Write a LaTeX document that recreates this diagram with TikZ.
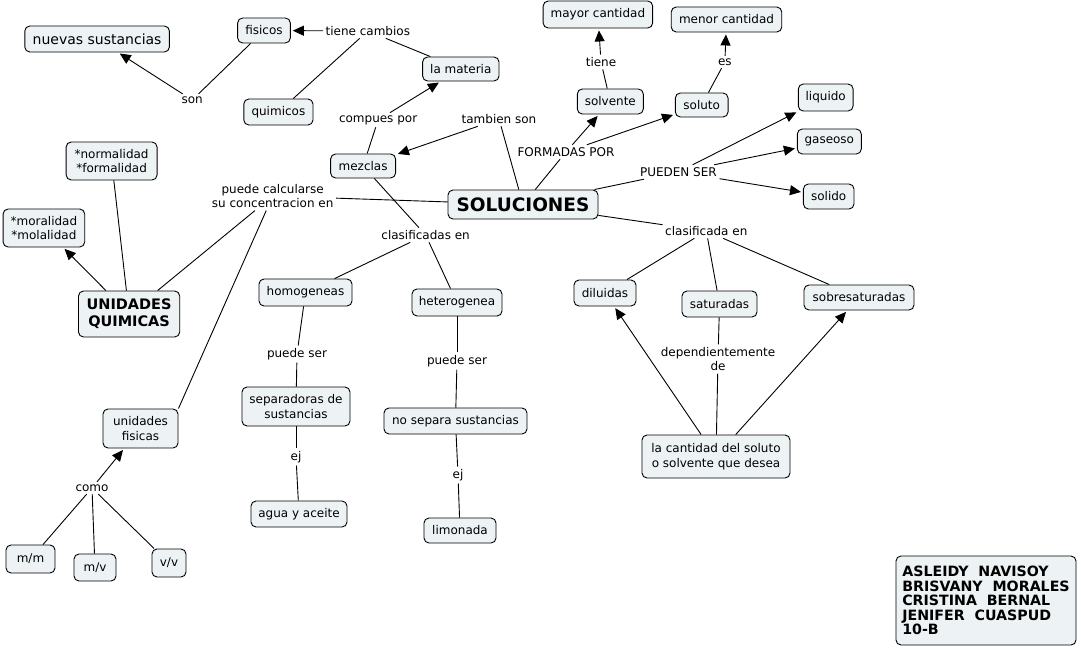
\documentclass[tikz,border=0pt]{standalone}
\usepackage{fontspec}
\setmainfont{DejaVu Sans}
\usetikzlibrary{arrows.meta}
\definecolor{cfill}{RGB}{237,243,245}
\newcommand{\nf}{\fontsize{12}{14.5}\selectfont}
\begin{document}
\begin{tikzpicture}[x=1pt,y=-1pt,
 concept/.style={draw=black, fill=cfill, rounded corners=5pt, line width=0.9pt, inner sep=2pt, align=center, font=\nf},
 lbl/.style={inner sep=2.5pt, align=center, font=\nf},
 conn/.style={line width=0.9pt},
 arr/.style={line width=0.9pt, -{Triangle[length=11pt,width=10pt]}, shorten >=2pt},
 sz/.style 2 args={minimum width=#1pt, minimum height=#2pt}
]
\useasboundingbox (0,0) rectangle (1081,653);

\node[concept, sz={144.6}{26}, font=\fontsize{14}{16}\selectfont] (nuevas) at (97.1,39) {nuevas sustancias};
\node[concept, sz={52.7}{25}] (fisicos) at (264,30.5) {fisicos};
\node[lbl] (tiene) at (367.8,31) {tiene cambios};
\node[concept, sz={69.2}{26}] (quimicos) at (278.4,112) {quimicos};
\node[lbl] (son) at (192.2,100) {son};
\node[concept, sz={76.4}{24}] (materia) at (460.8,69) {la materia};
\node[lbl] (compues) at (378.1,120) {compues por};
\node[lbl] (tambien) at (499,119) {tambien son};
\node[concept, sz={65}{24}] (mezclas) at (363.1,166) {mezclas};
\node[concept, sz={150}{29}, font=\fontsize{18.5}{21}\selectfont\bfseries] (sol) at (523,204.5) {SOLUCIONES};
\node[lbl] (formadas) at (566,152) {FORMADAS POR};
\node[concept, sz={109.5}{27}] (mayor) at (597.9,14.5) {mayor cantidad};
\node[lbl] (tiene2) at (601,62) {tiene};
\node[concept, sz={66}{25}] (solvente) at (610.3,101.5) {solvente};
\node[concept, sz={110.5}{25}] (menor) at (726.5,19.5) {menor cantidad};
\node[lbl] (es) at (724.9,62) {es};
\node[concept, sz={52.7}{24}] (soluto) at (701.7,105) {soluto};
\node[concept, sz={54.8}{27}] (liquido) at (825.7,97.5) {liquido};
\node[concept, sz={64}{25}] (gaseoso) at (829.3,141.5) {gaseoso};
\node[concept, sz={50.6}{25}] (solido) at (828.7,196.5) {solido};
\node[lbl] (pueden) at (678.4,172) {PUEDEN SER};
\node[lbl] (clasa) at (706.3,231) {clasificada en};
\node[concept, sz={62}{26}] (diluidas) at (605,293) {diluidas};
\node[concept, sz={75}{26}] (saturadas) at (719.5,304) {saturadas};
\node[concept, sz={110}{25}] (sobre) at (859,297.5) {sobresaturadas};
\node[lbl] (depend) at (718,359) {dependientemente\\de};
\node[concept, sz={148}{43}] (cantidad) at (716,456.5) {la cantidad del soluto\\o solvente que desea};
\node[lbl] (clasb) at (425.6,235) {clasificadas en};
\node[concept, sz={93}{27}] (homo) at (305.5,292.5) {homogeneas};
\node[concept, sz={90}{27}] (hetero) at (457,302.5) {heterogenea};
\node[lbl] (pserA) at (297,354) {puede ser};
\node[concept, sz={108}{39}] (separa) at (296,406.5) {separadoras de\\sustancias};
\node[lbl] (ejA) at (296,457) {ej};
\node[concept, sz={96}{26}] (agua) at (299,514) {agua y aceite};
\node[lbl] (pserB) at (457,361) {puede ser};
\node[concept, sz={143}{26}] (nosepara) at (455.5,421) {no separa sustancias};
\node[lbl] (ejB) at (458,475) {ej};
\node[concept, sz={72}{25}] (limonada) at (460,530.5) {limonada};
\node[lbl] (calc) at (272.7,196) {puede calcularse\\su concentracion en};
\node[concept, sz={90.9}{38}] (normal) at (111.6,161) {*normalidad\\*formalidad};
\node[concept, sz={81.6}{38}] (moral) at (43.9,228) {*moralidad\\*molalidad};
\node[concept, sz={101.2}{46}, font=\fontsize{14.5}{17}\selectfont\bfseries] (uq) at (129.1,314) {UNIDADES\\QUIMICAS};
\node[concept, sz={75}{39}] (uf) at (140.5,428.5) {unidades\\fisicas};
\node[lbl] (como) at (92,488) {como};
\node[concept, sz={49}{28}] (mm) at (30.5,559) {m/m};
\node[concept, sz={42}{27}] (mv) at (95,567.5) {m/v};
\node[concept, sz={34}{28}] (vv) at (169,563) {v/v};
\node[concept, sz={180}{89}, align=left, font=\fontsize{14.2}{14.6}\selectfont\bfseries] (autores) at (986,600.5)
 {ASLEIDY\ \ NAVISOY\\BRISVANY\ \ MORALES\\CRISTINA\ \ BERNAL\\JENIFER\ \ CUASPUD\\10-B};

% connectors
\draw[arr] (tiene) -- (fisicos);
\draw[conn] (tiene) -- (materia);
\draw[conn] (tiene) -- (quimicos);
\draw[conn] (fisicos) -- (son);
\draw[arr] (son) -- (nuevas);
\draw[conn] (mezclas) -- (compues);
\draw[arr] (compues) -- (materia);
\draw[conn] (sol) -- (tambien);
\draw[arr] (tambien) -- (mezclas);
\draw[conn] (sol) -- (formadas);
\draw[arr] (formadas) -- (solvente);
\draw[arr] (formadas) -- (soluto);
\draw[conn] (solvente) -- (tiene2);
\draw[arr] (tiene2) -- (mayor);
\draw[conn] (soluto) -- (es);
\draw[arr] (es) -- (menor);
\draw[conn] (sol) -- (pueden);
\draw[arr] (pueden) -- (liquido);
\draw[arr] (pueden) -- (gaseoso);
\draw[arr] (pueden) -- (solido);
\draw[conn] (sol) -- (clasa);
\draw[conn] (clasa) -- (diluidas);
\draw[conn] (clasa) -- (saturadas);
\draw[conn] (clasa) -- (sobre);
\draw[conn] (saturadas) -- (depend);
\draw[conn] (depend) -- (cantidad);
\draw[arr] (cantidad) -- (diluidas);
\draw[arr] (cantidad) -- (sobre);
\draw[conn] (mezclas) -- (clasb);
\draw[conn] (clasb) -- (homo);
\draw[conn] (clasb) -- (hetero);
\draw[conn] (homo) -- (pserA);
\draw[conn] (pserA) -- (separa);
\draw[conn] (separa) -- (ejA);
\draw[conn] (ejA) -- (agua);
\draw[conn] (hetero) -- (pserB);
\draw[conn] (pserB) -- (nosepara);
\draw[conn] (nosepara) -- (ejB);
\draw[conn] (ejB) -- (limonada);
\draw[conn] (sol) -- (calc);
\draw[conn] (calc) -- (uq);
\draw[conn] (uf.north east) -- (calc);
\draw[conn] (uq) -- (normal);
\draw[arr] (uq) -- (moral);
\draw[arr] (como) -- (uf);
\draw[conn] (como) -- (mm);
\draw[conn] (como) -- (mv);
\draw[conn] (como) -- (vv);
\end{tikzpicture}
\end{document}
